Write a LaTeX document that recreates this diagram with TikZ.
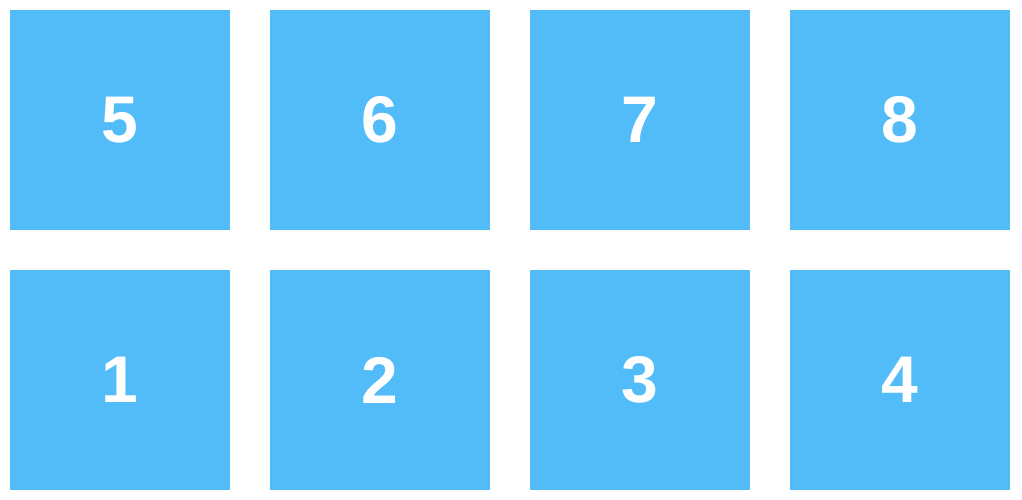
\documentclass[tikz,border=0pt]{standalone}
\usepackage{fontspec}
\setmainfont{Liberation Sans}
\usepackage{tikz}
\definecolor{tileblue}{RGB}{82,188,249}
\tikzset{tile/.style={fill=tileblue, minimum size=220pt, inner sep=0pt, text=white,
    font=\fontsize{66}{66}\selectfont\bfseries}}

\begin{document}
\begin{tikzpicture}[x=1pt,y=1pt]
                \useasboundingbox (0,0) rectangle (1022,500);
                \foreach \i in {1,...,4} {
                    \node [tile] (low\i) at ({120+260*(\i-1)},120) {\i};
                }
                \foreach \i [evaluate=\i as \n using int(\i+4)] in {1,...,4} {
                    \node [tile] (up\i) at ({120+260*(\i-1)},380) {\n};
                }
            \end{tikzpicture}
\end{document}
